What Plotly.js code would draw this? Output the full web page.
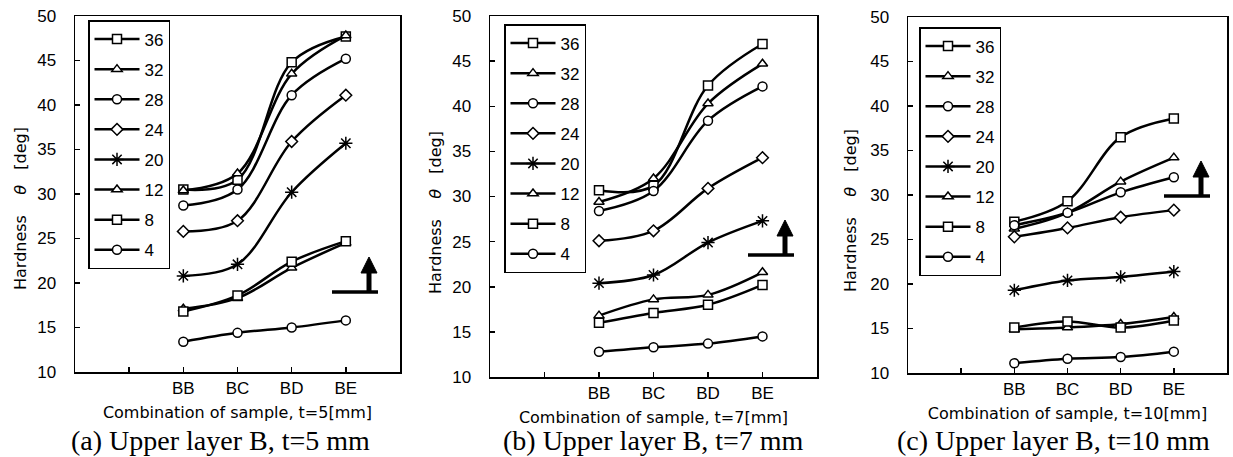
<!DOCTYPE html>
<html>
<head>
<meta charset="utf-8">
<script src="https://cdn.plot.ly/plotly-3.0.1.min.js"></script>
<style>html,body{margin:0;padding:0;background:#fff;}#chart{width:1233px;height:457px;}</style>
</head>
<body>
<div id="chart"></div>
<script>
// ---------- data ----------
const categories = ['BB', 'BC', 'BD', 'BE'];
const axisCategories = [' ', '  ', 'BB', 'BC', 'BD', 'BE', '   '];
const seriesNames = ['36', '32', '28', '24', '20', '12', '8', '4'];

// (a) Upper layer B, t=5 mm
const a36 = [30.5, 31.6, 44.8, 47.7];
const a32 = [30.4, 32.3, 43.5, 47.8];
const a28 = [28.7, 30.5, 41.1, 45.2];
const a24 = [25.8, 27.0, 35.9, 41.1];
const a20 = [20.8, 22.1, 30.2, 35.7];
const a12 = [17.1, 18.3, 21.7, 24.5];
const a8  = [16.8, 18.6, 22.4, 24.7];
const a4  = [13.4, 14.4, 15.0, 15.8];

// (b) Upper layer B, t=7 mm
const b36 = [30.7, 31.2, 42.3, 46.9];
const b32 = [29.4, 32.0, 40.3, 44.7];
const b28 = [28.4, 30.6, 38.4, 42.2];
const b24 = [25.1, 26.2, 30.9, 34.3];
const b20 = [20.4, 21.3, 24.9, 27.3];
const b12 = [16.8, 18.6, 19.1, 21.6];
const b8  = [16.0, 17.1, 18.0, 20.2];
const b4  = [12.8, 13.3, 13.7, 14.5];

// (c) Upper layer B, t=10 mm
const c36 = [27.0, 29.3, 36.5, 38.6];
const c32 = [26.2, 28.0, 31.5, 34.2];
const c28 = [26.6, 28.0, 30.3, 32.0];
const c24 = [25.3, 26.3, 27.5, 28.3];
const c20 = [19.3, 20.4, 20.8, 21.4];
const c12 = [14.9, 15.1, 15.5, 16.3];
const c8  = [15.1, 15.8, 15.1, 15.9];
const c4  = [11.1, 11.6, 11.8, 12.4];

const panelA = [a36, a32, a28, a24, a20, a12, a8, a4];
const panelB = [b36, b32, b28, b24, b20, b12, b8, b4];
const panelC = [c36, c32, c28, c24, c20, c12, c8, c4];

const xTitles = ['Combination of sample, t=5[mm]', 'Combination of sample, t=7[mm]', 'Combination of sample, t=10[mm]'];
const captions = ['(a) Upper layer B, t=5 mm', '(b) Upper layer B, t=7 mm', '(c) Upper layer B, t=10 mm'];
const yTitle = 'Hardness\u00a0\u00a0\u00a0 <i>θ</i> \u00a0\u00a0[deg]';

// ---------- styling ----------
const W = 1233, H = 457;
const px = v => v / W;
const py = v => 1 - v / H;
const symbols = ['square', 'triangle-up', 'circle', 'diamond', 'asterisk-open', 'triangle-up', 'square', 'circle'];
const SANS = 'Liberation Sans, Arial, sans-serif';
const WIDE = 'DejaVu Sans, Verdana, sans-serif';
const SERIF = 'Liberation Serif, Times New Roman, serif';

// plot boxes in pixels [left, right, top, bottom]
const boxes = [[75, 400, 16, 372], [490, 817, 16, 377], [908, 1227, 17, 373]];
const legendPos = [[88, 20], [504, 24], [919, 27]];
const captionCenters = [220, 653, 1053];
const yTitlePos = [[20, 209], [435, 213], [850, 211]];

const panels = [panelA, panelB, panelC];
const traces = [];
panels.forEach((panel, p) => {
  const sfx = p === 0 ? '' : String(p + 1);
  panel.forEach((vals, i) => {
    const isAst = symbols[i].startsWith('asterisk');
    traces.push({
      type: 'scatter', mode: 'lines+markers',
      x: categories, y: vals, name: seriesNames[i],
      xaxis: 'x' + sfx, yaxis: 'y' + sfx,
      legend: 'legend' + sfx,
      legendgroup: 'p' + p + '_' + seriesNames[i],
      line: {color: '#000', width: 2.5, shape: 'spline', smoothing: 1},
      marker: {symbol: symbols[i], size: isAst ? 11 : 9, color: isAst ? '#000' : '#fff',
               line: {color: '#000', width: 1.5}},
      cliponaxis: false
    });
  });
});

const layout = {
  width: W, height: H,
  margin: {l: 0, r: 0, t: 0, b: 0},
  paper_bgcolor: '#fff', plot_bgcolor: '#fff',
  font: {family: SANS, color: '#000', size: 16},
  showlegend: true,
  annotations: [],
  shapes: []
};

boxes.forEach((b, p) => {
  const sfx = p === 0 ? '' : String(p + 1);
  layout['xaxis' + sfx] = {
    domain: [px(b[0]), px(b[1])],
    anchor: 'y' + sfx,
    type: 'category', categoryarray: axisCategories, categoryorder: 'array',
    range: [0, axisCategories.length - 1],
    showline: true, mirror: true, linecolor: '#000', linewidth: 1.5,
    ticks: 'inside', ticklen: 5, tickwidth: 1.5, tickcolor: '#000',
    showgrid: false, zeroline: false, fixedrange: true,
    tickfont: {family: SANS, size: 17},
    title: {text: xTitles[p], font: {family: WIDE, size: 16}, standoff: 10}
  };
  layout['yaxis' + sfx] = {
    domain: [py(b[3]), py(b[2])],
    anchor: 'x' + sfx,
    range: [10, 50], dtick: 5, tick0: 10,
    showline: true, mirror: true, linecolor: '#000', linewidth: 1.5,
    ticks: 'inside', ticklen: 5, tickwidth: 1.5, tickcolor: '#000',
    showgrid: false, zeroline: false, fixedrange: true,
    tickfont: {family: SANS, size: 17},
    ticklabelstandoff: 14
  };
  layout['legend' + sfx] = {
    x: px(legendPos[p][0]), y: py(legendPos[p][1]),
    xanchor: 'left', yanchor: 'top',
    bgcolor: '#fff', bordercolor: '#000', borderwidth: 1.5,
    font: {family: SANS, size: 17},
    tracegroupgap: 5, itemwidth: 45,
    traceorder: 'grouped'
  };
  // y-axis title
  layout.annotations.push({
    xref: 'paper', yref: 'paper',
    x: px(yTitlePos[p][0]), y: py(yTitlePos[p][1]),
    xanchor: 'center', yanchor: 'middle', showarrow: false, textangle: -90,
    text: yTitle, font: {family: WIDE, size: 16}
  });
  // caption
  layout.annotations.push({
    xref: 'paper', yref: 'paper',
    x: px(captionCenters[p]), y: py(440),
    xanchor: 'center', yanchor: 'middle', showarrow: false,
    text: captions[p], font: {family: SERIF, size: 28}
  });
});

// arrows (decoration), pixel geometry: [horizontal line left x, line y]
const arrows = [[332, 292], [748, 255], [1164, 196]];
arrows.forEach(([x0, y0]) => {
  layout.shapes.push({type: 'line', xref: 'paper', yref: 'paper',
    x0: px(x0), x1: px(x0 + 46), y0: py(y0), y1: py(y0), line: {color: '#000', width: 3.5}});
  layout.shapes.push({type: 'line', xref: 'paper', yref: 'paper',
    x0: px(x0 + 37), x1: px(x0 + 37), y0: py(y0), y1: py(y0 - 20), line: {color: '#000', width: 5}});
  layout.shapes.push({type: 'path', xref: 'paper', yref: 'paper',
    path: `M ${px(x0 + 29)} ${py(y0 - 19)} L ${px(x0 + 45)} ${py(y0 - 19)} L ${px(x0 + 37)} ${py(y0 - 35)} Z`,
    fillcolor: '#000', line: {color: '#000', width: 1}});
});

Plotly.newPlot('chart', traces, layout, {displayModeBar: false, staticPlot: true});
</script>
</body>
</html>
